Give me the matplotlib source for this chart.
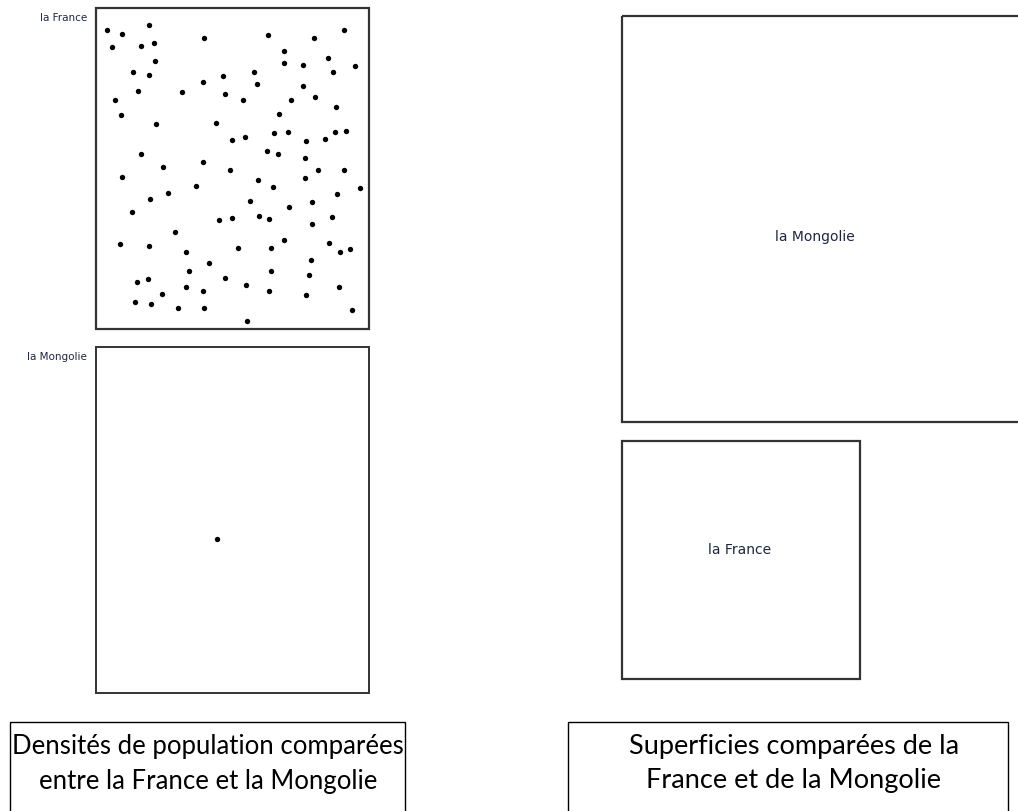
import matplotlib.pyplot as plt
from matplotlib.patches import Rectangle

# Points (pixel positions, y going down)
france_x = [107.3, 122.3, 149, 112.3, 141.3, 154.3, 204.3, 155, 133, 149, 223, 202.7,
            138.3, 182, 225, 114.7, 120.7, 155.7, 216, 232.3, 140.7, 163, 202.7, 230,
            122, 267.7, 314, 343.7, 283.7, 283.7, 303.3, 327.7, 354.7, 333, 254.3, 257,
            303.3, 243.3, 291, 314.7, 335.7, 279, 245, 273.7, 287.7, 306, 325.3, 335.3,
            345.7, 266.7, 277.7, 304.7, 318.3, 343.7, 150, 168.3, 195.7, 131.7, 219.3,
            232.3, 175.3, 120, 149, 186, 237.7, 209.3, 188.7, 136.7, 148, 224.7, 186.3,
            202.7, 161.7, 134.7, 151.3, 178, 203.7, 257.7, 273, 304.7, 359.7, 337.3,
            250.3, 288.7, 311.7, 259.3, 269.3, 311.7, 332, 270.7, 284, 328.7, 340,
            349.7, 310.7, 271.3, 308.7, 246.3, 268.7, 306, 338.7, 352.3, 247.3]
france_y = [31, 35, 25.7, 47.7, 46.7, 44.3, 39.3, 62.3, 72.7, 76, 77.3, 83,
            91.7, 93, 95.3, 101.3, 116.3, 125, 124, 140.7, 155.3, 168, 163.3, 170.7,
            178, 35.7, 39, 31.3, 51.7, 64, 66.3, 58.7, 67, 72.7, 73, 85.3,
            86.7, 101, 101, 98, 108, 114.7, 137.7, 134, 133.3, 141.7, 140, 133.3,
            132, 152.3, 155.3, 159, 170.7, 170.7, 200, 194.3, 186.7, 213.3, 220.7,
            219.3, 233.3, 245, 247, 253.3, 249, 264.3, 272, 283.3, 280, 279, 288.3,
            291.7, 295.3, 303, 305.3, 309, 309, 181, 188, 178.7, 189, 194.7,
            202, 208.3, 202.7, 216.7, 220, 225.3, 217.7, 248.7, 241, 243.7, 252.7,
            250, 261, 272, 276.3, 285.7, 292, 296, 287.7, 310.7, 322.3]
mongolie_x = [217]
mongolie_y = [540]

labels_small = ["la France", "la Mongolie"]
captions = ["Densités de population comparées\nentre la France et la Mongolie",
            "Superficies comparées de la\nFrance et de la Mongolie"]

fig = plt.figure(figsize=(10.18, 8.12), dpi=100)
ax = fig.add_axes([0, 0, 1, 1])
ax.set_xlim(0, 1018)
ax.set_ylim(812, 0)
ax.axis("off")

edge = "#333333"
lab_col = "#1f2640"
small_font = ["Liberation Sans Narrow", "DejaVu Sans"]
cap_font = ["Lato", "DejaVu Sans"]

# density boxes
ax.add_patch(Rectangle((96.5, 9), 273, 321, fill=False, ec=edge, lw=1.6))
ax.add_patch(Rectangle((96.5, 348), 273, 346, fill=False, ec=edge, lw=1.4))
ax.scatter(france_x, france_y, s=15, c="black", lw=0)
ax.scatter(mongolie_x, mongolie_y, s=15, c="black", lw=0)
ax.text(87, 18, labels_small[0], ha="right", va="center", fontsize=7.5,
        family=small_font, color=lab_col)
ax.text(87, 357, labels_small[1], ha="right", va="center", fontsize=7.5,
        family=small_font, color=lab_col)

# area boxes
ax.add_patch(Rectangle((622, 17), 420, 406, fill=False, ec=edge, lw=1.6))
ax.add_patch(Rectangle((622, 442), 238.5, 238, fill=False, ec=edge, lw=1.6))
ax.text(815, 237, labels_small[1], ha="center", va="center", fontsize=10,
        family=small_font, color=lab_col)
ax.text(740, 550, labels_small[0], ha="center", va="center", fontsize=10,
        family=small_font, color=lab_col)

# captions
ax.add_patch(Rectangle((10, 723), 395, 120, fill=False, ec="black", lw=1.0))
ax.add_patch(Rectangle((568, 723), 440, 120, fill=False, ec="black", lw=1.0))
ax.text(208, 764, captions[0], ha="center", va="center", fontsize=18.5,
        family=cap_font, linespacing=1.5)
ax.text(794, 764, captions[1], ha="center", va="center", fontsize=19.5,
        family=cap_font, linespacing=1.45)

fig.savefig("out.png", dpi=100)
